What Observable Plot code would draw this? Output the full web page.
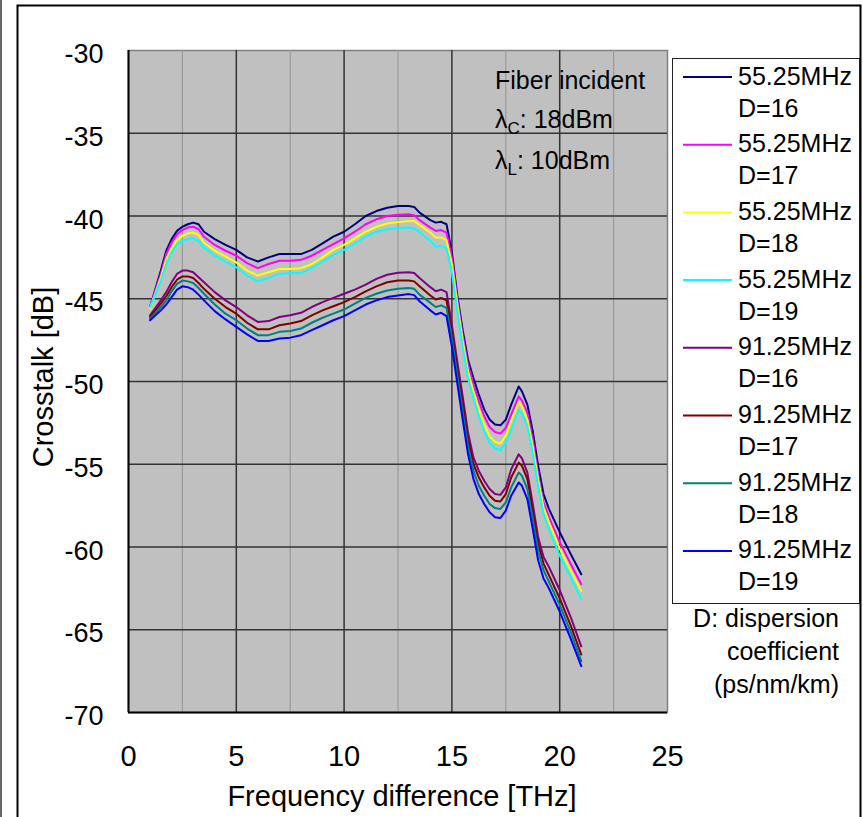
<!DOCTYPE html>
<html><head><meta charset="utf-8">
<script src="https://cdn.jsdelivr.net/npm/d3@7"></script>
<script src="https://cdn.jsdelivr.net/npm/@observablehq/plot@0.6"></script>
<style>
html,body{margin:0;padding:0;background:#fff;}
#chart{position:relative;width:863px;height:817px;overflow:hidden;}
</style></head><body><div id="chart"></div>
<script>
// ---------- data ----------
const freq = [1, 1.5, 1.75, 2, 2.25, 2.5, 2.75, 3, 3.25, 3.5, 4, 4.5, 5, 5.5, 6, 6.5, 7, 7.5, 8, 8.5,
  9, 9.5, 10, 10.5, 11, 11.5, 12, 12.5, 13, 13.25, 13.5, 14, 14.25, 14.5, 14.75, 15, 15.25, 15.5, 15.75, 16,
  16.25, 16.5, 16.75, 17, 17.25, 17.5, 17.75, 18.1, 18.25, 18.5, 18.75, 19, 19.25, 19.5, 20, 20.5, 21];

const seriesNames = ["55.25MHz D=16","55.25MHz D=17","55.25MHz D=18","55.25MHz D=19",
                     "91.25MHz D=16","91.25MHz D=17","91.25MHz D=18","91.25MHz D=19"];
const legendLine1 = ["55.25MHz","55.25MHz","55.25MHz","55.25MHz","91.25MHz","91.25MHz","91.25MHz","91.25MHz"];
const legendLine2 = ["D=16","D=17","D=18","D=19","D=16","D=17","D=18","D=19"];
const seriesColors = ["#000080","#ff00ff","#ffff00","#00ffff","#800080","#800000","#008080","#0000ff"];

const c55_D16 = [-45.5,-43.3,-42.1,-41.4,-40.9,-40.65,-40.5,-40.4,-40.5,-40.95,-41.4,-41.75,-42.05,-42.5,-42.75,-42.5,-42.3,-42.3,-42.3,-42.05,
  -41.65,-41.25,-40.95,-40.5,-40.0,-39.7,-39.5,-39.4,-39.4,-39.45,-39.8,-40.25,-40.4,-40.35,-40.5,-42.2,-44.8,-46.9,-48.7,-49.8,
  -50.8,-51.7,-52.3,-52.6,-52.65,-52.3,-51.4,-50.3,-50.6,-51.4,-53.0,-55.1,-56.8,-57.7,-59.1,-60.4,-61.65];
const c55_D17 = [-45.5,-43.5,-42.3,-41.6,-41.1,-40.85,-40.7,-40.65,-40.8,-41.25,-41.75,-42.1,-42.4,-42.85,-43.15,-42.9,-42.7,-42.7,-42.65,-42.4,
  -42.05,-41.7,-41.35,-40.95,-40.5,-40.2,-40.0,-39.92,-39.9,-39.95,-40.25,-40.7,-40.9,-40.85,-41.0,-42.5,-45.0,-47.2,-49.0,-50.2,
  -51.2,-52.1,-52.75,-53.05,-53.15,-52.8,-52.0,-50.9,-51.15,-51.9,-53.5,-55.6,-57.3,-58.2,-59.7,-61.0,-62.25];
const c55_D18 = [-45.6,-43.7,-42.6,-41.95,-41.45,-41.2,-41.05,-41.0,-41.15,-41.6,-42.1,-42.45,-42.8,-43.3,-43.6,-43.4,-43.2,-43.2,-43.15,-42.9,
  -42.5,-42.05,-41.75,-41.35,-40.95,-40.65,-40.45,-40.37,-40.3,-40.3,-40.55,-41.0,-41.3,-41.3,-41.45,-42.9,-45.3,-47.5,-49.4,-50.6,
  -51.7,-52.6,-53.3,-53.65,-53.75,-53.3,-52.4,-51.25,-51.5,-52.3,-53.9,-55.9,-57.6,-58.5,-60.1,-61.4,-62.65];
const c55_D19 = [-45.5,-43.9,-42.9,-42.2,-41.7,-41.5,-41.4,-41.35,-41.5,-41.9,-42.4,-42.75,-43.1,-43.6,-43.95,-43.75,-43.5,-43.45,-43.45,-43.15,
  -42.75,-42.35,-42.05,-41.65,-41.25,-40.95,-40.8,-40.74,-40.7,-40.75,-41.0,-41.5,-41.85,-41.8,-41.95,-43.4,-45.7,-47.9,-49.8,-51.0,
  -52.1,-53.0,-53.7,-54.05,-54.15,-53.7,-52.9,-51.7,-51.95,-52.7,-54.3,-56.3,-58.0,-58.9,-60.5,-61.8,-63.15];
const c91_D16 = [-46.0,-45.1,-44.6,-44.0,-43.5,-43.3,-43.3,-43.4,-43.7,-44.0,-44.6,-45.1,-45.5,-46.0,-46.4,-46.35,-46.1,-46.0,-45.85,-45.5,
  -45.2,-44.95,-44.7,-44.45,-44.15,-43.8,-43.55,-43.43,-43.4,-43.45,-43.75,-44.3,-44.55,-44.45,-44.6,-46.6,-48.8,-50.9,-53.1,-54.6,
  -55.4,-56.0,-56.5,-56.8,-56.85,-56.4,-55.3,-54.4,-54.65,-55.5,-57.4,-59.4,-60.6,-61.2,-62.6,-64.2,-66.0];
const c91_D17 = [-46.1,-45.3,-44.85,-44.3,-43.85,-43.65,-43.65,-43.75,-44.05,-44.4,-45.0,-45.5,-45.9,-46.45,-46.85,-46.85,-46.6,-46.5,-46.35,-46.0,
  -45.7,-45.45,-45.2,-44.9,-44.55,-44.25,-44.0,-43.9,-43.9,-43.95,-44.25,-44.8,-45.05,-44.95,-45.1,-47.0,-49.2,-51.3,-53.5,-55.0,
  -55.8,-56.4,-56.9,-57.2,-57.25,-56.8,-55.8,-54.9,-55.1,-55.9,-57.8,-59.8,-61.0,-61.7,-63.1,-64.7,-66.5];
const c91_D18 = [-46.2,-45.5,-45.1,-44.55,-44.1,-43.9,-43.95,-44.05,-44.35,-44.7,-45.35,-45.9,-46.3,-46.8,-47.2,-47.2,-47.0,-46.95,-46.8,-46.45,
  -46.15,-45.9,-45.65,-45.3,-44.95,-44.7,-44.5,-44.4,-44.35,-44.4,-44.75,-45.25,-45.5,-45.4,-45.55,-47.4,-49.6,-51.8,-53.9,-55.4,
  -56.3,-56.9,-57.4,-57.65,-57.7,-57.3,-56.4,-55.5,-55.7,-56.5,-58.3,-60.2,-61.4,-62.1,-63.5,-65.1,-66.9];
const c91_D19 = [-46.3,-45.7,-45.35,-44.9,-44.45,-44.25,-44.3,-44.45,-44.75,-45.1,-45.75,-46.25,-46.7,-47.15,-47.55,-47.55,-47.4,-47.35,-47.2,-46.9,
  -46.6,-46.3,-46.05,-45.7,-45.35,-45.1,-44.9,-44.8,-44.72,-44.78,-45.15,-45.7,-45.95,-45.85,-46.05,-47.9,-50.1,-52.3,-54.4,-55.9,
  -56.8,-57.4,-57.9,-58.2,-58.25,-57.8,-56.9,-56.1,-56.3,-57.1,-58.9,-60.8,-61.9,-62.5,-63.9,-65.5,-67.2];

const xTicks = [0, 5, 10, 15, 20, 25];
const xMinorGrid = [2.5, 7.5, 12.5, 17.5, 22.5];
const xMajorGrid = [5, 10, 15, 20];
const yTicks = [-30, -35, -40, -45, -50, -55, -60, -65, -70];
const yGrid = [-35, -40, -45, -50, -55, -60, -65];

const xTitle = "Frequency difference [THz]";
const yTitle = "Crosstalk [dB]";
const noteLines = ["D: dispersion", "coefficient", "(ps/nm/km)"];

// ---------- build rows ----------
const allSeries = [c55_D16, c55_D17, c55_D18, c55_D19, c91_D16, c91_D17, c91_D18, c91_D19];
const rows = [];
allSeries.forEach((vals, i) => vals.forEach((v, j) => rows.push({f: freq[j], v, s: seriesNames[i]})));

const FONT = "'Liberation Sans', Arial, Helvetica, sans-serif";

const plot = Plot.plot({
  width: 863, height: 817,
  marginLeft: 128, marginRight: 196, marginTop: 50, marginBottom: 105,
  style: {background: "transparent", fontFamily: FONT, color: "#000", overflow: "visible"},
  x: {domain: [0, 25]},
  y: {domain: [-70, -30]},
  color: {domain: seriesNames, range: seriesColors},
  marks: [
    Plot.frame({fill: "#c0c0c0", stroke: "#808080", strokeWidth: 1.5}),
    Plot.ruleX(xMinorGrid, {stroke: "#9a9a9a", strokeWidth: 1.2}),
    Plot.ruleX(xMajorGrid, {stroke: "#333", strokeWidth: 1.5}),
    Plot.ruleY(yGrid, {stroke: "#333", strokeWidth: 1.5}),
    Plot.ruleX([0], {stroke: "#000", strokeWidth: 2}),
    Plot.ruleY([-70], {stroke: "#000", strokeWidth: 2}),
    Plot.line(rows, {x: "f", y: "v", z: "s", stroke: "s", strokeWidth: 2}),
    Plot.axisX({ticks: xTicks, tickSize: 0, tickPadding: 33, fontSize: 29, label: null, tickFormat: d => String(d)}),
    Plot.axisY({ticks: yTicks, tickSize: 0, tickPadding: 25, fontSize: 27, label: null, tickFormat: d => String(d), dy: 4})
  ]
});

document.getElementById("chart").appendChild(plot);

// ---------- decorations: frame, legend, annotations, titles ----------
const svg = d3.select(plot);
svg.insert("line", ":first-child").attr("x1", 1).attr("x2", 1).attr("y1", 0).attr("y2", 817)
  .attr("stroke", "#333").attr("stroke-width", 1.5);
svg.append("rect").attr("x", 17.5).attr("y", 5.5).attr("width", 843).attr("height", 840)
  .attr("fill", "none").attr("stroke", "#000").attr("stroke-width", 2);

const g = svg.append("g").attr("font-family", FONT).attr("fill", "#000").attr("text-anchor", "start");

// legend
g.append("rect").attr("x", 672.5).attr("y", 58.5).attr("width", 187).attr("height", 545)
  .attr("fill", "#fff").attr("stroke", "#222").attr("stroke-width", 1);
seriesNames.forEach((name, i) => {
  const b = 84.5 + 67.7 * i;
  g.append("line").attr("x1", 683).attr("x2", 732).attr("y1", b - 7.5).attr("y2", b - 7.5)
    .attr("stroke", seriesColors[i]).attr("stroke-width", 2);
  g.append("text").attr("x", 738).attr("y", b).attr("font-size", 25).attr("text-anchor", "start").text(legendLine1[i]);
  g.append("text").attr("x", 738).attr("y", b + 32).attr("font-size", 25).attr("text-anchor", "start").text(legendLine2[i]);
});
noteLines.forEach((t, i) => {
  g.append("text").attr("x", 839).attr("y", 627 + 33 * i).attr("font-size", 25)
    .attr("text-anchor", "end").text(t);
});

// annotation
g.append("text").attr("x", 495).attr("y", 89).attr("font-size", 25).attr("text-anchor", "start").text("Fiber incident");
const a1 = g.append("text").attr("x", 495).attr("y", 128).attr("font-size", 25).attr("text-anchor", "start");
a1.append("tspan").text("λ");
a1.append("tspan").attr("dy", 6).attr("font-size", 17).text("C");
a1.append("tspan").attr("dy", -6).text(": 18dBm");
const a2 = g.append("text").attr("x", 495).attr("y", 169).attr("font-size", 25).attr("text-anchor", "start");
a2.append("tspan").text("λ");
a2.append("tspan").attr("dy", 6).attr("font-size", 17).text("L");
a2.append("tspan").attr("dy", -6).text(": 10dBm");

// axis titles
g.append("text").attr("x", 402).attr("y", 806).attr("font-size", 29).attr("text-anchor", "middle").text(xTitle);
g.append("text").attr("transform", "translate(53,377) rotate(-90)").attr("font-size", 29)
  .attr("text-anchor", "middle").text(yTitle);
</script></body></html>
